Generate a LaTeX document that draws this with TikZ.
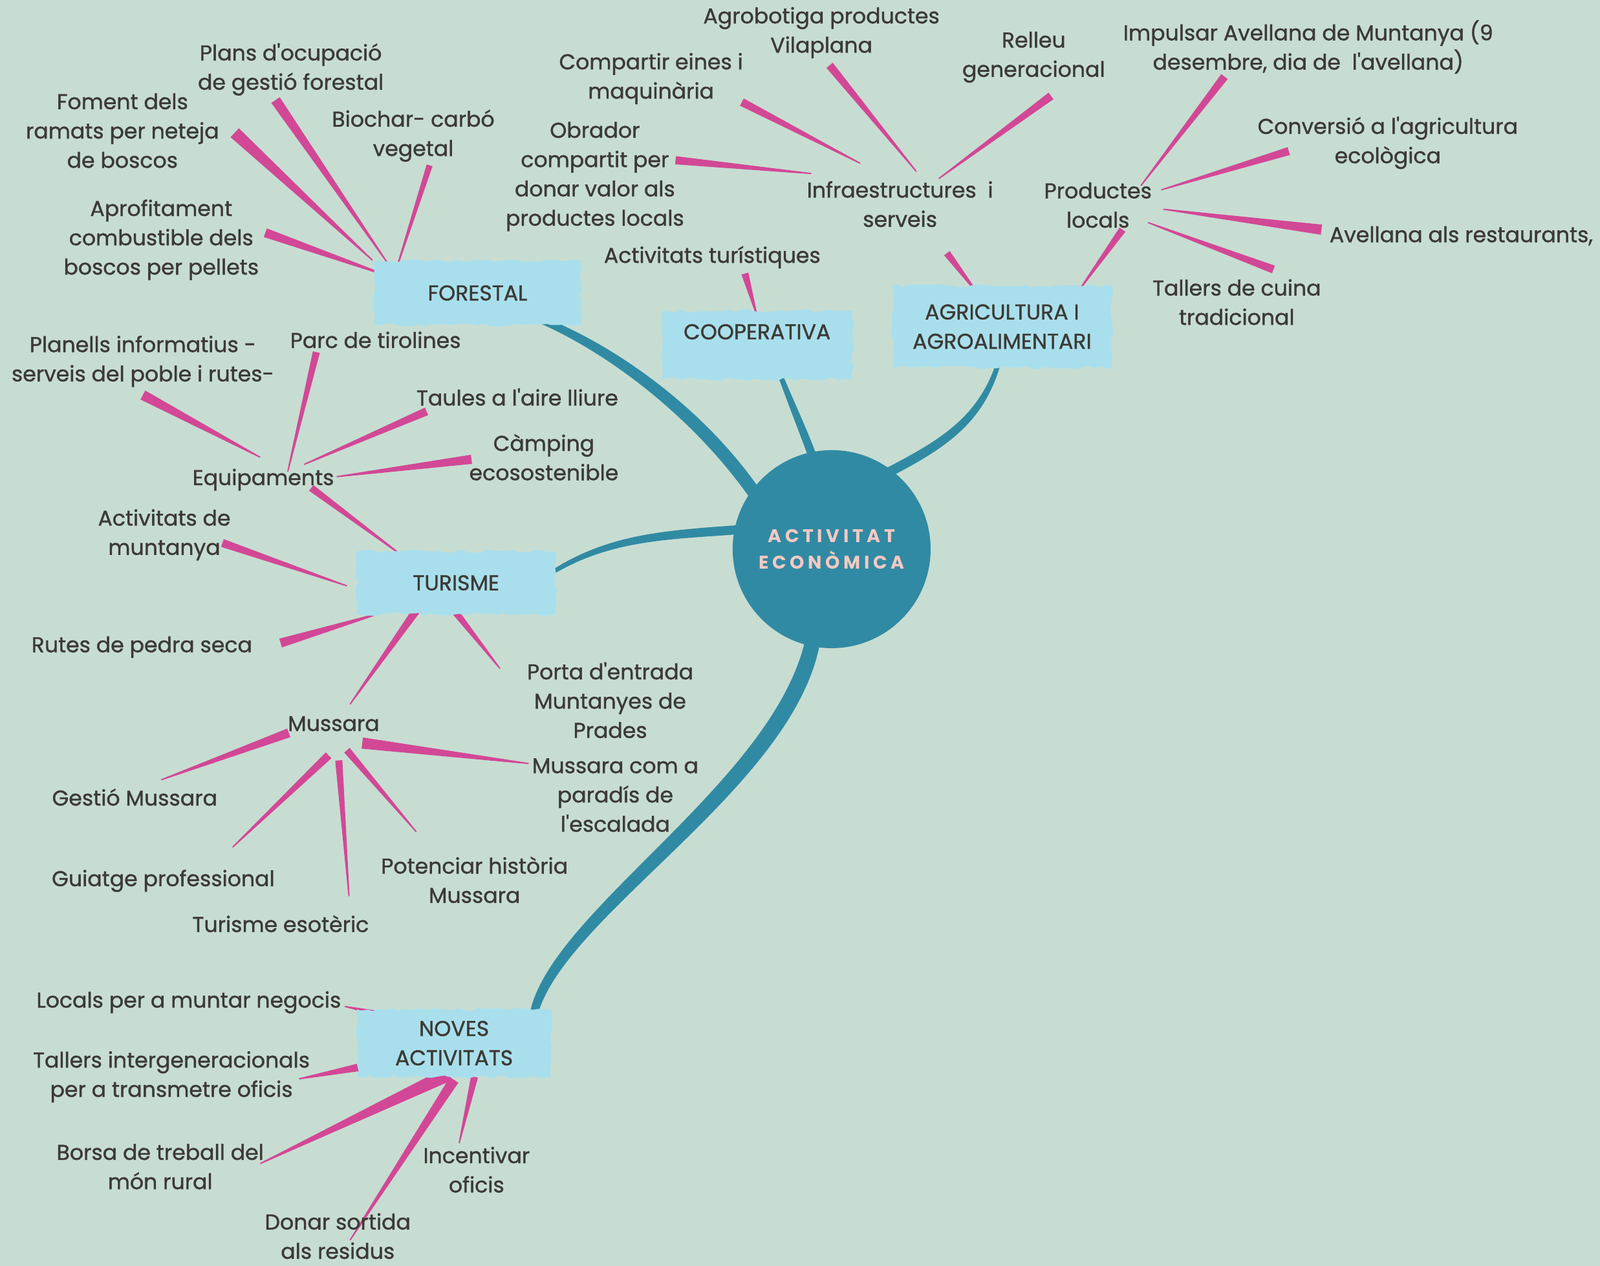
\documentclass[tikz,border=0pt]{standalone}
\usepackage{fontspec}
\setmainfont{Poppins}[Ligatures=TeXOff, UprightFeatures={FakeBold=1.1}]
\usetikzlibrary{calc,backgrounds,decorations.pathmorphing}
\definecolor{bgc}{HTML}{C7DDD2}
\definecolor{limbc}{HTML}{318AA3}
\definecolor{brushc}{HTML}{D24896}
\definecolor{boxc}{HTML}{A9DFEC}
\definecolor{txt}{HTML}{3C3A35}
\definecolor{corec}{HTML}{F5C9C2}
\newcommand\basefont{\fontsize{21}{28.7}\selectfont}
% pink brush stroke: wide end, thin end
\newcommand\brush[3][4]{%
  \path #2 coordinate (bw) #3 coordinate (bn);
  \fill[brushc] ($(bw)!#1pt!90:(bn)$) -- ($(bn)!0.6pt!-90:(bw)$) -- ($(bn)!0.6pt!90:(bw)$) -- ($(bw)!#1pt!-90:(bn)$) -- cycle;}
% teal branch: from, to, controls, thickness offset
\newcommand\limb[5]{%
  \path #1 coordinate (la) #2 coordinate (lb);
  \fill[limbc] (la) .. controls #3 and #4 .. (lb) -- ($(lb)+#5$) .. controls ($#4+#5$) and ($#3+0.7*#5$) .. ($(la)+0.5*#5$) -- cycle;}
\tikzset{
  leaf/.style={text=txt, align=center, inner sep=0pt},
  hub/.style={fill=boxc, text=txt, align=center, decorate, decoration={random steps, segment length=6pt, amplitude=1.6pt}},
  core/.style={circle, fill=limbc, text=corec, minimum size=194pt, align=center,
    font=\fontsize{18}{26}\selectfont\bfseries\addfontfeature{LetterSpace=20}}
}
\begin{document}
\begin{tikzpicture}[x=1pt,y=-1pt,font=\basefont]
\useasboundingbox (0,0) rectangle (1568,1240);

\node[core] (centre) at (815,538) {ACTIVITAT\\ECONÒMICA};
\node[hub, minimum width=203, minimum height=63] (forestal) at (468,287) {FORESTAL};
\node[hub, minimum width=187, minimum height=67] (coop) at (742,338) {\raisebox{26pt}{COOPERATIVA}};
\node[hub, minimum width=215, minimum height=80] (agri) at (982,320) {AGRICULTURA I\\AGROALIMENTARI};
\node[hub, minimum width=195, minimum height=62] (turisme) at (447,571) {TURISME};
\node[hub, minimum width=190, minimum height=66] (noves) at (445,1022) {NOVES\\ACTIVITATS};

\node[leaf] (plans) at (285,68) {Plans d'ocupació\\de gestió forestal};
\node[leaf] (foment) at (120,128) {Foment dels\\ramats per neteja\\de boscos};
\node[leaf] (biochar) at (405,133) {Biochar- carbó\\vegetal};
\node[leaf] (aprofit) at (158,235) {Aprofitament\\combustible dels\\boscos per pellets};
\node[leaf] (activtur) at (698,252) {Activitats turístiques};
\node[leaf] (infra) at (882,200) {Infraestructures\ \ i\\serveis};
\node[leaf] (agrob) at (805,32) {Agrobotiga productes\\Vilaplana};
\node[leaf] (compartir) at (638,77) {Compartir eines i\\maquinària};
\node[leaf] (obrador) at (583,173) {Obrador\\compartit per\\donar valor als\\productes locals};
\node[leaf] (relleu) at (1013,56) {Relleu\\generacional};
\node[leaf] (productes) at (1076,201) {Productes\\locals};
\node[leaf] (impulsar) at (1282,46) {Impulsar Avellana de Muntanya (9\\desembre, dia de\ \ l'avellana)};
\node[leaf] (conversio) at (1360,140) {Conversió a l'agricultura\\ecològica};
\node[leaf] (avellana) at (1432,231) {Avellana als restaurants,};
\node[leaf] (tallers) at (1212,296) {Tallers de cuina\\tradicional};
\node[leaf] (equip) at (258,470) {Equipaments};
\node[leaf] (planells) at (140,354) {Planells informatius -\\serveis del poble i rutes-};
\node[leaf] (parc) at (368,333) {Parc de tirolines};
\node[leaf] (taules) at (507,389) {Taules a l'aire lliure};
\node[leaf] (camping) at (533,448) {Càmping\\ecosostenible};
\node[leaf] (activmunt) at (161,524) {Activitats de\\muntanya};
\node[leaf] (rutes) at (139,634) {Rutes de pedra seca};
\node[leaf] (mussara) at (327,709) {Mussara};
\node[leaf] (gestio) at (132,781) {Gestió Mussara};
\node[leaf] (guiatge) at (160,863) {Guiatge professional};
\node[leaf] (esoteric) at (275,905) {Turisme esotèric};
\node[leaf] (potenciar) at (465,862) {Potenciar història\\Mussara};
\node[leaf] (escalada) at (603,779) {Mussara com a\\paradís de\\l'escalada};
\node[leaf] (porta) at (598,686) {Porta d'entrada\\Muntanyes de\\Prades};
\node[leaf] (locals) at (185,982) {Locals per a muntar negocis};
\node[leaf] (tallint) at (168,1055) {Tallers intergeneracionals\\per a transmetre oficis};
\node[leaf] (borsa) at (157,1143) {Borsa de treball del\\món rural};
\node[leaf] (donar) at (331,1211) {Donar sortida\\als residus};
\node[leaf] (incentivar) at (467,1146) {Incentivar\\oficis};

\begin{scope}[on background layer]
\fill[bgc] (0,0) rectangle (1568,1240);
% main branches
\limb{($(forestal)+(55,20)$)}{($(centre)+(-70,-58)$)}{(600,335)}{(690,400)}{(-8,11)}
\limb{($(coop)+(16,18)$)}{($(centre)+(-22,-88)$)}{(770,390)}{(782,420)}{(8,-2)}
\limb{($(agri)+(-4,30)$)}{($(centre)+(47,-76)$)}{(960,410)}{(920,432)}{(7,7)}
\limb{($(turisme)+(80,-3)$)}{($(centre)+(-85,-24)$)}{(590,522)}{(650,520)}{(0,9)}
\limb{($(noves)+(73,-20)$)}{($(centre)+(-25,85)$)}{(525,900)}{(760,770)}{(13,10)}
% forestal
\brush[5]{($(plans)+(-15,30)$)}{($(forestal)+(-88,-29)$)}
\brush[6]{($(foment)+(110,2)$)}{($(forestal)+(-103,-32)$)}
\brush[3]{($(biochar)+(16,29)$)}{($(forestal)+(-80,-22)$)}
\brush[4.5]{($(aprofit)+(102,-7)$)}{($(forestal)+(-83,-15)$)}
% cooperativa, agricultura
\brush[3.5]{($(activtur)+(32,16)$)}{($(coop)+(0,-28)$)}
\brush[3.5]{($(infra)+(46,48)$)}{($(agri)+(-22,-30)$)}
\brush[3.5]{($(productes)+(24,24)$)}{($(agri)+(75,-35)$)}
\brush[4]{($(agrob)+(8,32)$)}{($(infra)+(16,-32)$)}
\brush[4]{($(compartir)+(89,23)$)}{($(infra)+(-39,-40)$)}
\brush[4]{($(obrador)+(79,-16)$)}{($(infra)+(-87,-30)$)}
\brush[4]{($(relleu)+(17,38)$)}{($(infra)+(38,-25)$)}
\brush[4]{($(impulsar)+(-82,29)$)}{($(productes)+(42,-19)$)}
\brush[4]{($(conversio)+(-97,8)$)}{($(productes)+(62,-15)$)}
\brush[5]{($(avellana)+(-137,-6)$)}{($(productes)+(64,4)$)}
\brush[4]{($(tallers)+(36,-32)$)}{($(productes)+(49,17)$)}
% turisme
\brush[3.5]{($(equip)+(47,8)$)}{($(turisme)+(-52,-26)$)}
\brush[4]{($(activmunt)+(57,8)$)}{($(turisme)+(-107,3)$)}
\brush[4.5]{($(rutes)+(136,-4)$)}{($(turisme)+(-72,29)$)}
\brush[4]{($(turisme)+(-39,27)$)}{($(mussara)+(16,-19)$)}
\brush[3.5]{($(turisme)+(-2,27)$)}{($(porta)+(-108,-31)$)}
\brush[5]{($(planells)+(0,33)$)}{($(equip)+(-3,-22)$)}
\brush[3.5]{($(parc)+(-58,12)$)}{($(equip)+(24,-8)$)}
\brush[4]{($(taules)+(-89,14)$)}{($(equip)+(40,-15)$)}
\brush[4.5]{($(camping)+(-71,2)$)}{($(equip)+(72,-3)$)}
\brush[4.5]{($(mussara)+(-44,9)$)}{($(gestio)+(26,-17)$)}
\brush[4]{($(mussara)+(-5,31)$)}{($(guiatge)+(68,-33)$)}
\brush[3.5]{($(mussara)+(5,36)$)}{($(esoteric)+(67,-27)$)}
\brush[3.5]{($(mussara)+(13,26)$)}{($(potenciar)+(-57,-47)$)}
\brush[5.5]{($(mussara)+(28,19)$)}{($(escalada)+(-85,-31)$)}
% noves activitats
\brush[4]{($(noves)+(-50,-24)$)}{($(locals)+(153,4)$)}
\brush[4]{($(noves)+(-90,23)$)}{($(tallint)+(125,2)$)}
\brush[7]{($(noves)+(-5,30)$)}{($(borsa)+(98,-3)$)}
\brush[5]{($(noves)+(0,36)$)}{($(donar)+(12,4)$)}
\brush[3.5]{($(noves)+(20,33)$)}{($(incentivar)+(-17,-26)$)}
\end{scope}
\end{tikzpicture}
\end{document}
